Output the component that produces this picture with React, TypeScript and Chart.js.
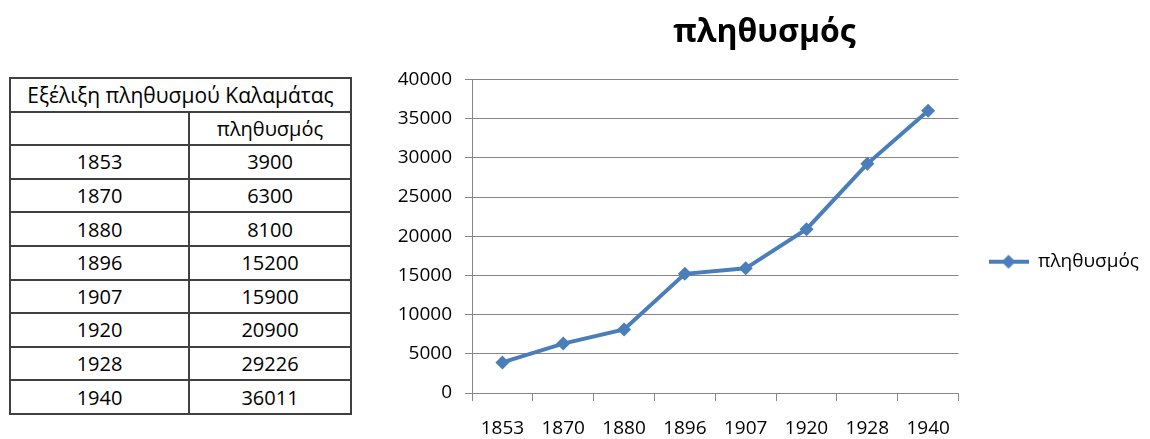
import React, { useEffect, useRef } from "react";
import { Chart, registerables } from "chart.js";

Chart.register(...registerables);

// ---- data ----
const years: string[] = ["1853", "1870", "1880", "1896", "1907", "1920", "1928", "1940"];
const population: number[] = [3900, 6300, 8100, 15200, 15900, 20900, 29226, 36011];
const seriesName = "πληθυσμός";
const chartTitle = "πληθυσμός";
const tableTitle = "Εξέλιξη πληθυσμού Καλαμάτας";
const yMin = 0;
const yMax = 40000;
const yStep = 5000;

const FONT = "'Open Sans', 'Noto Sans', 'DejaVu Sans', sans-serif";
const BLUE = "#4A7EBB";
const GRID = "#868686";

function makeLegendMarker(): HTMLCanvasElement {
  const c = document.createElement("canvas");
  c.width = 40;
  c.height = 16;
  const ctx = c.getContext("2d")!;
  ctx.strokeStyle = BLUE;
  ctx.lineWidth = 4;
  ctx.beginPath();
  ctx.moveTo(0, 8);
  ctx.lineTo(40, 8);
  ctx.stroke();
  ctx.fillStyle = BLUE;
  ctx.beginPath();
  ctx.moveTo(20, 1);
  ctx.lineTo(27, 8);
  ctx.lineTo(20, 15);
  ctx.lineTo(13, 8);
  ctx.closePath();
  ctx.fill();
  return c;
}

function PopulationChart() {
  const ref = useRef<HTMLCanvasElement | null>(null);
  useEffect(() => {
    if (!ref.current) return;
    const marker = makeLegendMarker();
    const chart = new Chart(ref.current, {
      type: "line",
      data: {
        labels: years,
        datasets: [
          {
            label: seriesName,
            data: population,
            borderColor: BLUE,
            backgroundColor: BLUE,
            borderWidth: 4,
            pointStyle: "rectRot",
            pointRadius: 7,
            pointBackgroundColor: BLUE,
            pointBorderColor: BLUE,
            pointBorderWidth: 0,
            tension: 0,
          },
        ],
      },
      options: {
        animation: false,
        responsive: true,
        maintainAspectRatio: false,
        layout: { padding: { left: 0, right: 1, top: 0, bottom: 0 } },
        plugins: {
          title: {
            display: true,
            text: chartTitle,
            color: "#000",
            font: { family: FONT, size: 32, weight: "bold" },
            padding: { top: 14, bottom: 27 },
          },
          legend: {
            display: true,
            position: "right",
            align: "center",
            title: { display: true, text: "", font: { size: 12 }, padding: { top: 35, bottom: 35 } },
            labels: {
              usePointStyle: true,
              pointStyleWidth: 40,
              padding: 30,
              color: "#000",
              font: { family: FONT, size: 19 },
              generateLabels: (c: any) => {
                const items = (Chart.defaults.plugins.legend.labels as any).generateLabels(c);
                items.forEach((it: any) => (it.pointStyle = marker));
                return items;
              },
            },
          },
          tooltip: { enabled: false },
        },
        scales: {
          x: {
            type: "category",
            offset: true,
            grid: { offset: true, drawOnChartArea: false, drawTicks: true, tickLength: 8, color: GRID },
            border: { display: true, color: GRID, width: 1 },
            ticks: { color: "#000", font: { family: FONT, size: 19 }, padding: 16, maxRotation: 0 },
            afterFit: (s: any) => {
              s.height = 46;
            },
          },
          y: {
            min: yMin,
            max: yMax,
            ticks: {
              stepSize: yStep,
              color: "#000",
              font: { family: FONT, size: 19 },
              padding: 13,
              callback: (v: any) => String(v),
            },
            grid: { color: GRID, tickLength: 7, drawTicks: true },
            border: { display: true, color: GRID, width: 1 },
            afterFit: (s: any) => {
              s.width = 92;
            },
          },
        },
      },
    });
    return () => chart.destroy();
  }, []);
  return (
    <div style={{ position: "absolute", left: 380, top: 0, width: 770, height: 439 }}>
      <canvas ref={ref} />
    </div>
  );
}

function PopulationTable() {
  const border = "2px solid #404040";
  const cell: React.CSSProperties = {
    border,
    textAlign: "center",
    padding: 0,
    height: 31.6,
    fontFamily: FONT,
    fontSize: 20,
    color: "#000",
    whiteSpace: "nowrap",
  };
  return (
    <table
      style={{
        position: "absolute",
        left: 9,
        top: 77,
        width: 341,
        borderCollapse: "collapse",
        tableLayout: "fixed",
      }}
    >
      <colgroup>
        <col style={{ width: 179 }} />
        <col style={{ width: 162 }} />
      </colgroup>
      <tbody>
        <tr>
          <td colSpan={2} style={{ ...cell, fontSize: 21 }}>
            {tableTitle}
          </td>
        </tr>
        <tr>
          <td style={cell}></td>
          <td style={cell}>{seriesName}</td>
        </tr>
        {years.map((y, i) => (
          <tr key={y}>
            <td style={cell}>{y}</td>
            <td style={cell}>{population[i]}</td>
          </tr>
        ))}
      </tbody>
    </table>
  );
}

export default function App() {
  return (
    <div style={{ position: "absolute", left: 0, top: 0, width: 1150, height: 439, background: "#fff" }}>
      <PopulationTable />
      <PopulationChart />
    </div>
  );
}
